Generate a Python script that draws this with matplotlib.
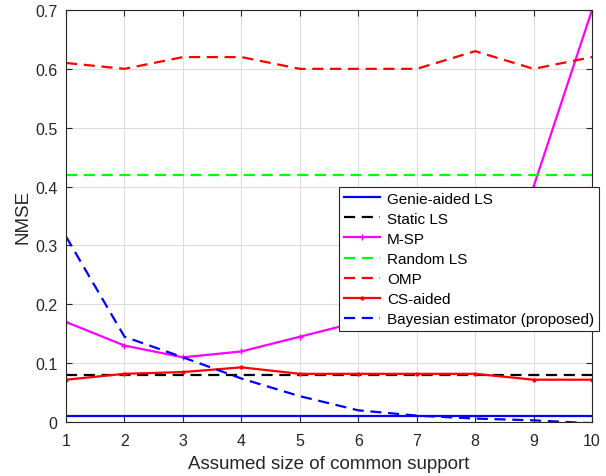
import numpy as np
import matplotlib
matplotlib.use("Agg")
import matplotlib.pyplot as plt

plt.rcParams['font.family'] = ['Liberation Sans', 'DejaVu Sans']

# data
support = [1, 2, 3, 4, 5, 6, 7, 8, 9, 10]
genie_ls = [0.01] * 10
static_ls = [0.08] * 10
m_sp = [0.17, 0.13, 0.11, 0.12, 0.145, 0.17, 0.20, 0.25, 0.40, 0.70]
random_ls = [0.42] * 10
omp = [0.61, 0.60, 0.62, 0.62, 0.60, 0.60, 0.60, 0.63, 0.60, 0.62]
cs_aided = [0.072, 0.082, 0.085, 0.093, 0.082, 0.082, 0.082, 0.082, 0.072, 0.072]
bayesian = [0.315, 0.145, 0.11, 0.074, 0.044, 0.02, 0.011, 0.006, 0.003, -0.002]

y_ticks = [0, 0.1, 0.2, 0.3, 0.4, 0.5, 0.6, 0.7]
y_tick_labels = ["0", "0.1", "0.2", "0.3", "0.4", "0.5", "0.6", "0.7"]

fig = plt.figure(figsize=(6.06, 4.77), dpi=100)
ax = fig.add_axes([0.109, 0.113, 0.868, 0.864])

dash = (0, (5, 3))
lw = 1.6
ax.plot(support, genie_ls, color='#0000ff', lw=lw, label='Genie-aided LS')
ax.plot(support, static_ls, color='black', lw=lw, linestyle=dash, label='Static LS')
ax.plot(support, m_sp, color='#ff00ff', lw=lw, marker='+', markersize=4, label='M-SP')
ax.plot(support, random_ls, color='#00ff00', lw=lw, linestyle=dash, label='Random LS')
ax.plot(support, omp, color='#ff0000', lw=lw, linestyle=dash, label='OMP')
ax.plot(support, cs_aided, color='#ff0000', lw=lw, marker='.', markersize=4, label='CS-aided')
ax.plot(support, bayesian, color='#0000ff', lw=lw, linestyle=dash, label='Bayesian estimator (proposed)')

ax.set_xlim(1, 10)
ax.set_ylim(0, 0.7)
ax.set_xticks(support)
ax.set_yticks(y_ticks)
ax.set_yticklabels(y_tick_labels)
ax.grid(True, color='#dddddd', linewidth=0.8)
ax.set_axisbelow(True)
ax.tick_params(direction='in', top=True, right=True, labelsize=11.5, colors='#262626', length=4)
ax.tick_params(axis='x', pad=8)
ax.tick_params(axis='y', pad=6)
for sp in ax.spines.values():
    sp.set_color('#262626')
    sp.set_linewidth(0.8)

ax.set_xlabel('Assumed size of common support', fontsize=13.5, color='#262626', labelpad=5)
ax.set_ylabel('NMSE', fontsize=13.5, color='#262626', labelpad=3)

leg = ax.legend(loc='upper left', bbox_to_anchor=(339 / 606, 1 - 188 / 477),
                bbox_transform=fig.transFigure, fontsize=11, frameon=True,
                fancybox=False, framealpha=1, edgecolor='#262626',
                handlelength=2.4, borderpad=0.3, labelspacing=0.4,
                handletextpad=0.45, borderaxespad=0)
leg.get_frame().set_linewidth(0.8)

fig.savefig('out.png', dpi=100)
